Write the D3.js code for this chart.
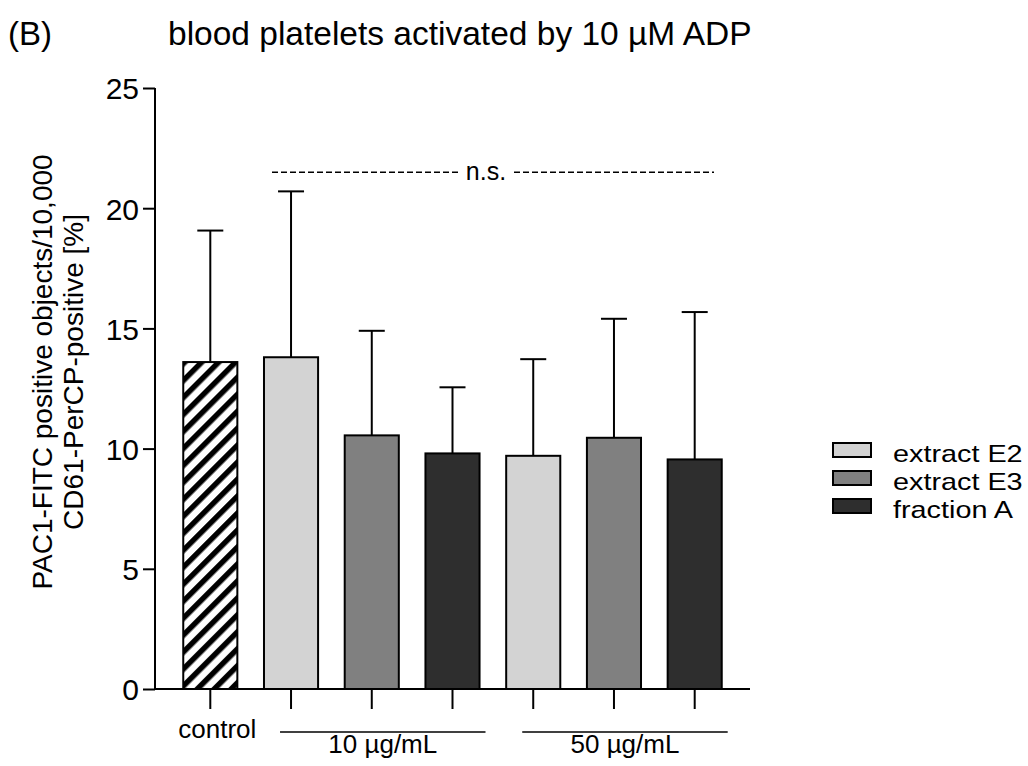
<!DOCTYPE html>
<html>
<head>
<meta charset="utf-8">
<script src="https://cdn.jsdelivr.net/npm/d3@7"></script>
<style>
  body { margin: 0; background: #fff; }
  text { font-family: "Liberation Sans", Arial, sans-serif; fill: #000; }
</style>
</head>
<body>
<div id="chart"></div>
<script>
// groups along the x axis
const categories = ['control', 'E2-10', 'E3-10', 'A-10', 'E2-50', 'E3-50', 'A-50'];
const seriesKey = ['control', 'E2', 'E3', 'A', 'E2', 'E3', 'A'];
const means = [13.6, 13.8, 10.55, 9.8, 9.7, 10.45, 9.55];
const upperErr = [19.07, 20.7, 14.9, 12.55, 13.72, 15.4, 15.68];
const yTicks = [0, 5, 10, 15, 20, 25];
const legendLabels = ['extract E2', 'extract E3', 'fraction A'];
const legendKeys = ['E2', 'E3', 'A'];

const fills = { E2: '#d3d3d3', E3: '#808080', A: '#2e2e2e', control: 'url(#hatch)' };

const width = 1028, height = 766;
const svg = d3.select('#chart').append('svg')
  .attr('width', width)
  .attr('height', height);

// diagonal stripes for the control bar
const pat = svg.append('defs').append('pattern')
  .attr('id', 'hatch')
  .attr('patternUnits', 'userSpaceOnUse')
  .attr('width', 12).attr('height', 12)
  .attr('patternTransform', 'rotate(45)');
pat.append('rect').attr('width', 12).attr('height', 12).attr('fill', '#fff');
pat.append('rect').attr('width', 5.5).attr('height', 12).attr('fill', '#000');

const x = d3.scaleBand()
  .domain(categories)
  .range([155, 750])
  .paddingInner(0.33)
  .paddingOuter(0.35);

const y = d3.scaleLinear()
  .domain([0, 25])
  .range([689, 88]);

// y axis
const yAxis = svg.append('g')
  .attr('transform', 'translate(155,0)')
  .call(d3.axisLeft(y).tickValues(yTicks).tickSize(12).tickPadding(4));
yAxis.select('.domain').attr('stroke', '#000').attr('stroke-width', 2).attr('d', `M0,${y(25)}V${y(0)}`);
yAxis.selectAll('.tick line').attr('stroke', '#000').attr('stroke-width', 2);
yAxis.selectAll('.tick text')
  .style('font-family', '"Liberation Sans", Arial, sans-serif')
  .style('font-size', '30px')
  .attr('fill', '#000')
  .attr('dy', '0.36em');

// x axis
const xAxis = svg.append('g')
  .attr('transform', `translate(0,${y(0)})`)
  .call(d3.axisBottom(x).tickSize(20).tickFormat(''));
xAxis.select('.domain').attr('stroke', '#000').attr('stroke-width', 2).attr('d', `M155,0H750`);
xAxis.selectAll('.tick line').attr('stroke', '#000').attr('stroke-width', 2);

// error bars (upper only)
const err = svg.append('g');
categories.forEach((c, i) => {
  const cx = x(c) + x.bandwidth() / 2;
  err.append('line')
    .attr('x1', cx).attr('x2', cx)
    .attr('y1', y(means[i])).attr('y2', y(upperErr[i]))
    .attr('stroke', '#000').attr('stroke-width', 2);
  err.append('line')
    .attr('x1', cx - 13).attr('x2', cx + 13)
    .attr('y1', y(upperErr[i])).attr('y2', y(upperErr[i]))
    .attr('stroke', '#000').attr('stroke-width', 2);
});

// bars
svg.append('g').selectAll('rect')
  .data(categories)
  .join('rect')
  .attr('x', d => x(d))
  .attr('y', (d, i) => y(means[i]))
  .attr('width', x.bandwidth())
  .attr('height', (d, i) => y(0) - y(means[i]))
  .attr('fill', (d, i) => fills[seriesKey[i]])
  .attr('stroke', '#000')
  .attr('stroke-width', 2);

// group labels below axis
svg.append('text')
  .attr('x', x('control') + x.bandwidth() / 2 + 7)
  .attr('y', 738)
  .attr('text-anchor', 'middle')
  .style('font-size', '26px')
  .text('control');

const groups = [
  { label: '10 \u00b5g/mL', from: 'E2-10', to: 'A-10' },
  { label: '50 \u00b5g/mL', from: 'E2-50', to: 'A-50' }
];
groups.forEach(g => {
  const x0 = x(g.from) + x.bandwidth() / 2 - 11;
  const x1 = x(g.to) + x.bandwidth() / 2 + 33;
  svg.append('line')
    .attr('x1', x0).attr('x2', x1)
    .attr('y1', 732).attr('y2', 732)
    .attr('stroke', '#000').attr('stroke-width', 1.5);
  svg.append('text')
    .attr('x', (x0 + x1) / 2)
    .attr('y', 753)
    .attr('text-anchor', 'middle')
    .style('font-size', '26px')
    .text(g.label);
});

// n.s. bracket
const nsY = y(21.5);
svg.append('line')
  .attr('x1', 272).attr('x2', 458)
  .attr('y1', nsY).attr('y2', nsY)
  .attr('stroke', '#000').attr('stroke-width', 1.5)
  .attr('stroke-dasharray', '6,3');
svg.append('line')
  .attr('x1', 514).attr('x2', 714)
  .attr('y1', nsY).attr('y2', nsY)
  .attr('stroke', '#000').attr('stroke-width', 1.5)
  .attr('stroke-dasharray', '6,3');
svg.append('text')
  .attr('x', 486).attr('y', nsY + 8)
  .attr('text-anchor', 'middle')
  .style('font-size', '25px')
  .text('n.s.');

// titles
svg.append('text')
  .attr('x', 8).attr('y', 45)
  .style('font-size', '33px')
  .text('(B)');
svg.append('text')
  .attr('x', 168).attr('y', 45)
  .style('font-size', '33.5px')
  .text('blood platelets activated by 10 \u00b5M ADP');

// y label
const yl = svg.append('text')
  .attr('transform', 'translate(52,372) rotate(-90)')
  .attr('text-anchor', 'middle')
  .style('font-size', '28px');
yl.append('tspan').attr('x', 0).attr('y', 0).text('PAC1-FITC positive objects/10,000');
yl.append('tspan').attr('x', 0).attr('y', 31).text('CD61-PerCP-positive [%]');

// legend
const legend = svg.append('g').attr('transform', 'translate(833,443)');
legendLabels.forEach((lab, i) => {
  legend.append('rect')
    .attr('x', 0).attr('y', i * 28)
    .attr('width', 38).attr('height', 14)
    .attr('fill', fills[legendKeys[i]])
    .attr('stroke', '#000').attr('stroke-width', 2);
  legend.append('text')
    .attr('transform', `translate(60,${i * 28 + 19}) scale(1.2,1)`)
    .style('font-size', '24px')
    .text(lab);
});
</script>
</body>
</html>
